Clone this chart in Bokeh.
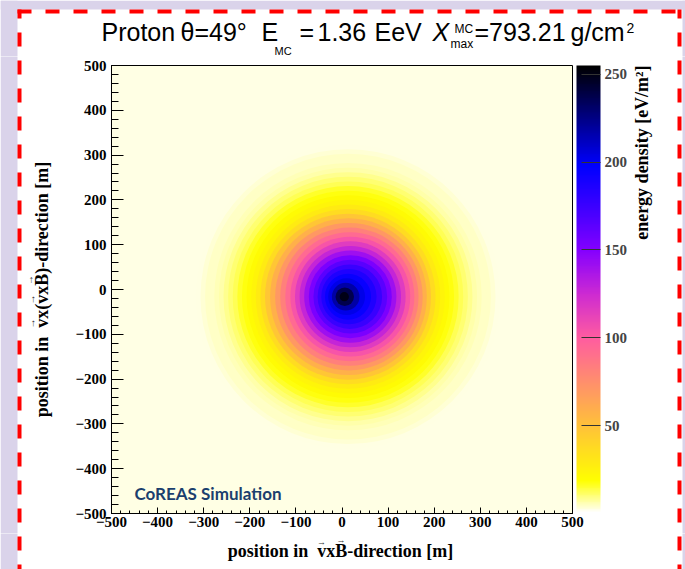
import numpy as np
from bokeh.plotting import figure
from bokeh.layouts import column, row
from bokeh.models import (Range1d, LinearColorMapper, ColorBar, FixedTicker,
                          SingleIntervalTicker, Label, BoxAnnotation,
                          CustomJSTickFormatter, ColumnDataSource)
from bokeh.transform import transform
from bokeh.embed import file_html
from bokeh.resources import INLINE

# ---------------- data ----------------
ring_radius_m = [330, 320, 310, 300, 290, 280, 270, 260, 250, 240, 230, 220,
                 210, 200, 190, 180, 170, 160, 150, 140, 130, 120, 110, 100,
                 90, 80, 70, 60, 50, 40, 30, 20, 10]
ring_density = [2.6, 3.3, 4.0, 4.8, 5.7, 6.8, 8.3, 10.2, 12.5, 15, 17.5, 20,
                23, 28, 36, 47, 58, 70, 82, 93, 104, 116, 128, 141,
                153, 165, 176, 186, 195, 203, 218, 238, 250]
ring_center_x_m = [13, 13, 13, 13, 13, 13, 13, 13, 13, 13, 13, 13,
                   13, 13, 13, 13, 14, 15, 16, 17, 18, 18, 18, 18,
                   18, 18, 17, 15, 13, 10, 8, 6, 5]
ring_center_y_m = [-16] * 33
colorbar_ticks = [50, 100, 150, 200, 250]
density_low, density_high = 0, 255
axis_min, axis_max = -500, 500

# ---------------- palette (ROOT-like: white-yellow-pink-blue-black) ----------
anchor_v = [0, 18, 50, 100, 125, 150, 175, 198, 255]
anchor_rgb = np.array([(255, 255, 255), (255, 255, 0), (255, 192, 58),
                       (255, 92, 160), (205, 42, 210), (132, 0, 255),
                       (60, 0, 255), (0, 0, 255), (0, 0, 0)], dtype=float)
pal = []
for v in np.linspace(density_low, density_high, 256):
    rgb = [int(round(np.interp(v, anchor_v, anchor_rgb[:, k]))) for k in range(3)]
    pal.append("#%02x%02x%02x" % tuple(rgb))
mapper = LinearColorMapper(palette=pal, low=density_low, high=density_high)

# ---------------- geometry (page pixels) ----------------
PW, PH = 685, 569
TOP_H, BOT_Y = 56, 533          # title strip / x-title strip
LEFT_W, RIGHT_X = 66, 630       # y-title strip / colour-bar title strip
FL, FT, FR, FB = 111, 65, 572, 513
LAV = "#DAD3EA"
RED = "#FF0000"
SERIF = "Liberation Serif"


def helper_fig(x0, x1, y0, y1):
    f = figure(width=x1 - x0, height=y1 - y0,
               x_range=Range1d(x0, x1), y_range=Range1d(y1, y0),
               x_axis_location=None, y_axis_location=None,
               toolbar_location=None, output_backend="svg", min_border=0,
               frame_align=False)
    f.outline_line_color = None
    f.background_fill_color = "white"
    f.border_fill_color = "white"
    f.grid.visible = False
    return f


def box(f, l, r, t, b, color):
    f.add_layout(BoxAnnotation(left=l, right=r, top=t, bottom=b,
                               fill_color=color, fill_alpha=1.0,
                               line_color=None, level="overlay"))


def decorate(f):
    # lavender page background + red dashed border
    box(f, 0, 17, 0, PH, LAV)
    box(f, 682, PW, 0, PH, LAV)
    box(f, 0, PW, 0, 9, LAV)
    y = 4
    while y < PH:
        box(f, 17, 21, max(y, 9), min(y + 14, PH), RED)
        box(f, 677, 681, max(y, 9), min(y + 14, PH), RED)
        y += 28
    x = 17
    while x < 681:
        box(f, x, min(x + 14, 681), 9, 13, RED)
        x += 28


def lab(f, txt, x, y, size, font="Liberation Sans", style="normal",
        align="left", baseline="alphabetic", angle=0.0, color="black"):
    f.add_layout(Label(x=x, y=y, text=txt, text_font=font,
                       text_font_size=f"{size}px", text_font_style=style,
                       text_align=align, text_baseline=baseline,
                       angle=angle, text_color=color))


# Times-Bold advance widths (Liberation Serif Bold is metric compatible)
TB = {"p": 556, "o": 500, "s": 389, "i": 278, "t": 333, "n": 556, " ": 250,
      "\u00a0": 250, "v": 500, "x": 500, "B": 667, "-": 333, "d": 556,
      "r": 444, "e": 444, "c": 444, "[": 333, "m": 833, "]": 333, "(": 333,
      ")": 333}


def centers(txt, size, letter):
    """Centre offsets (px from text start) of every `letter` in txt, and the width."""
    pos, out = 0.0, []
    for ch in txt:
        w = TB[ch] * size / 1000.0
        if ch == letter:
            out.append(pos + w / 2)
        pos += w
    return out, pos


# ---------------- title strip ----------------
top = helper_fig(0, PW, 0, TOP_H)
decorate(top)
B = 31
lab(top, "Proton", 101, B, 25)
lab(top, "\u03b8=49\u00b0", 180, B, 25)
lab(top, "E", 261, B, 25)
lab(top, "MC", 274, 50, 11)
lab(top, "=", 299, B, 25)
lab(top, "1.36", 317, B, 25)
lab(top, "EeV", 374, B, 25)
lab(top, "X", 432, B, 25, style="italic")
lab(top, "MC", 454, 28, 12)
lab(top, "max", 450, 43, 12)
lab(top, "=793.21", 474, B, 25)
lab(top, "g/cm", 570, B, 25)
lab(top, "2", 626, 27, 14)

# ---------------- y-title strip ----------------
left = helper_fig(0, LEFT_W, TOP_H, BOT_Y)
decorate(left)
ytitle = "position in\u00a0 vx(vxB)-direction [m]"
YS, YCX, YCY = 18, 41, 289
lab(left, ytitle, YCX, YCY, YS, font=SERIF, style="bold", align="center",
    angle=np.pi / 2)
_, yw = centers(ytitle, YS, "v")
for letter in ("v", "B"):
    offs, _ = centers(ytitle, YS, letter)
    for o in offs:
        lab(left, "\u2192", YCX - (10 if letter == "v" else 12), YCY + yw / 2 - o,
            10, font=SERIF, align="center", baseline="middle", angle=np.pi / 2,
            color="#333333")

# ---------------- colour-bar title strip ----------------
right = helper_fig(RIGHT_X, PW, TOP_H, BOT_Y)
decorate(right)
lab(right, "energy density [eV/m\u00b2]", 641, FT, 18, font=SERIF,
    style="bold", align="right", baseline="middle", angle=np.pi / 2)

# ---------------- x-title strip ----------------
bottom = helper_fig(0, PW, BOT_Y, PH)
decorate(bottom)
xtitle = "position in\u00a0 vxB-direction [m]"
XS, XCX, XBY = 18, 340, 550
lab(bottom, xtitle, XCX, XBY, XS, font=SERIF, style="bold", align="center")
_, xw = centers(xtitle, XS, "v")
for letter in ("v", "B"):
    offs, _ = centers(xtitle, XS, letter)
    for o in offs:
        lab(bottom, "\u2192", XCX - xw / 2 + o, 541 if letter == "v" else 539,
            9, font=SERIF, align="center", baseline="middle", color="#333333")

# ---------------- main plot ----------------
MW, MH = RIGHT_X - LEFT_W, BOT_Y - TOP_H
p = figure(width=MW, height=MH, x_range=Range1d(axis_min, axis_max),
           y_range=Range1d(axis_min, axis_max),
           output_backend="svg", toolbar_location=None, frame_align=False,
           min_border_left=FL - LEFT_W, min_border_right=RIGHT_X - FR,
           min_border_top=FT - TOP_H, min_border_bottom=BOT_Y - FB)
p.background_fill_color = "#FFFFE4"
p.border_fill_color = "white"
p.outline_line_color = "black"
p.outline_line_width = 1
p.xgrid.visible = False
p.ygrid.visible = False

fmt = CustomJSTickFormatter(code="return (tick < 0 ? '\\u2212' : '') + Math.abs(tick);")
for ax, mj, mn, so in ((p.xaxis[0], 6, 3, 3), (p.yaxis[0], 12, 7, 5)):
    ax.ticker = SingleIntervalTicker(interval=100, num_minor_ticks=5)
    ax.formatter = fmt
    ax.major_tick_in = mj
    ax.major_tick_out = 0
    ax.minor_tick_in = mn
    ax.minor_tick_out = 0
    ax.axis_line_color = "black"
    ax.major_tick_line_color = "black"
    ax.minor_tick_line_color = "black"
    ax.major_label_text_font = SERIF
    ax.major_label_text_font_style = "bold"
    ax.major_label_text_font_size = "15px"
    ax.major_label_text_color = "black"
    ax.major_label_standoff = so

src = ColumnDataSource(dict(x=ring_center_x_m, y=ring_center_y_m,
                            r=ring_radius_m, v=ring_density))
p.circle(x="x", y="y", radius="r", source=src,
         fill_color=transform("v", mapper), line_color=None)

cb = ColorBar(color_mapper=mapper, ticker=FixedTicker(ticks=colorbar_ticks),
              location=(FR - FL + 4, 0), width=24, height=FB - FT,
              padding=0, margin=0, orientation="vertical",
              major_tick_in=19, major_tick_out=0,
              major_tick_line_color="#333333", minor_tick_line_color=None,
              major_label_text_font=SERIF,
              major_label_text_font_style="bold",
              major_label_text_font_size="15px",
              label_standoff=4, bar_line_color=None,
              background_fill_alpha=0, border_line_color=None)
p.add_layout(cb, "center")

p.add_layout(Label(x=23, y=10, x_units="screen", y_units="screen",
                   text="CoREAS Simulation", text_font="Lato",
                   text_font_style="bold", text_font_size="17px",
                   text_color="#1b3f6e"))

layout = column(top, row(left, p, right, spacing=0), bottom, spacing=0)
open("out.html", "w").write(file_html(layout, INLINE))
